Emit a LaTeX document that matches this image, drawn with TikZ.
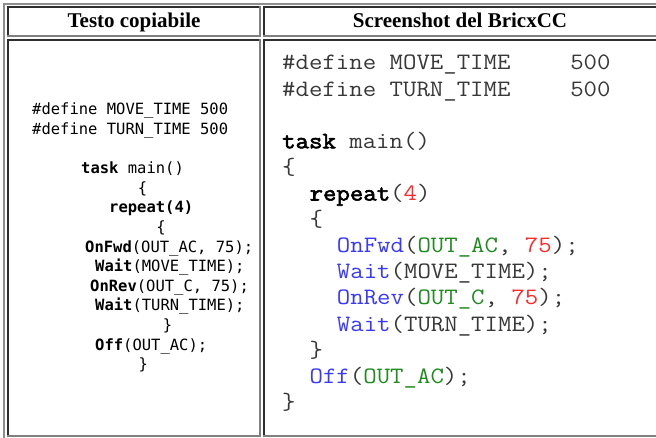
\documentclass[tikz,border=0pt]{standalone}
\usepackage{fontspec}
\setmainfont{Liberation Serif}
\newfontfamily\plainmono{DejaVu Sans Mono}
\newfontfamily\ideMono{Latin Modern Mono}[FakeStretch=1.11, AutoFakeBold=2.5]
\definecolor{outergray}{HTML}{8F8F8F}
\definecolor{celldark}{HTML}{2E2E2E}
\definecolor{celllight}{HTML}{808080}
\definecolor{idegray}{HTML}{383838}
\definecolor{ideblue}{HTML}{3838FF}
\definecolor{idegreen}{HTML}{1E8C1E}
\definecolor{idered}{HTML}{FF2A2A}
\begin{document}
\begin{tikzpicture}[x=1pt,y=-1pt,
  hdr/.style={anchor=base, inner sep=0pt, font=\fontsize{21}{25}\selectfont\bfseries},
  lcode/.style={anchor=base west, inner sep=0pt, font=\plainmono\fontsize{15.5}{19}\selectfont},
  lbrace/.style={lcode, anchor=base},
  rcode/.style={anchor=base west, inner sep=0pt, text=idegray, font=\ideMono\fontsize{23.5}{26}\selectfont},
  outerline/.style={line width=2pt, draw=outergray},
  hiline/.style={line width=2pt, draw=celldark},
  loline/.style={line width=2pt, draw=celllight}]
\useasboundingbox (0,0) rectangle (656,438);
\fill[white] (0,0) rectangle (656,438);

% table frame
\draw[outerline] (4,438) -- (4,4) -- (656,4);

% header cells
\draw[hiline] (8,37) -- (8,7) -- (261,7);
\draw[loline] (260,6) -- (260,36) -- (7,36);
\draw[hiline] (264,37) -- (264,7) -- (656,7);
\draw[loline] (263,36) -- (656,36);

% body cells
\draw[hiline] (8,437) -- (8,40) -- (261,40);
\draw[loline] (260,39) -- (260,436) -- (7,436);
\draw[hiline] (264,437) -- (264,40) -- (656,40);
\draw[loline] (263,436) -- (656,436);

% headings
\node[hdr] (h1) at (134,28) {Testo copiabile};
\node[hdr] (h2) at (460,28) {Screenshot del BricxCC};

% plain copyable listing
\node[lcode] (l1) at (32,115) {\#define MOVE\_TIME 500};
\node[lcode] (l2) at (32,134.6) {\#define TURN\_TIME 500};
\node[lcode] (l4) at (81,173.8) {\textbf{task} main()};
\node[lbrace] (l5) at (142.5,193.4) {\{};
\node[lcode] (l6) at (109,213) {\textbf{repeat(4)}};
\node[lbrace] (l7) at (161,232.6) {\{};
\node[lcode] (l8) at (85,252.2) {\textbf{OnFwd}(OUT\_AC, 75);};
\node[lcode] (l9) at (95,271.8) {\textbf{Wait}(MOVE\_TIME);};
\node[lcode] (l10) at (90,291.4) {\textbf{OnRev}(OUT\_C, 75);};
\node[lcode] (l11) at (95,311) {\textbf{Wait}(TURN\_TIME);};
\node[lbrace] (l12) at (167.5,330.6) {\}};
\node[lcode] (l13) at (95,350.2) {\textbf{Off}(OUT\_AC);};
\node[lbrace] (l14) at (143.3,369.8) {\}};

% editor listing with syntax colours
\node[rcode] (r1) at (282,70) {\#define MOVE\_TIME\phantom{0000}\hspace{6pt}500};
\node[rcode] (r2) at (282,96.1) {\#define TURN\_TIME\phantom{0000}\hspace{6pt}500};
\node[rcode] (r4) at (282,148.3) {\textcolor{black}{\bfseries task} main()};
\node[rcode] (r5) at (282,174.4) {\{};
\node[rcode] (r6) at (309.4,200.5) {\textcolor{black}{\bfseries repeat}(\textcolor{idered}{4})};
\node[rcode] (r7) at (309.4,226.6) {\{};
\node[rcode] (r8) at (336.7,252.7) {\textcolor{ideblue}{OnFwd}(\textcolor{idegreen}{OUT\_AC}, \textcolor{idered}{75});};
\node[rcode] (r9) at (336.7,278.8) {\textcolor{ideblue}{Wait}(MOVE\_TIME);};
\node[rcode] (r10) at (336.7,304.9) {\textcolor{ideblue}{OnRev}(\textcolor{idegreen}{OUT\_C}, \textcolor{idered}{75});};
\node[rcode] (r11) at (336.7,331) {\textcolor{ideblue}{Wait}(TURN\_TIME);};
\node[rcode] (r12) at (309.4,357.1) {\}};
\node[rcode] (r13) at (309.4,383.2) {\textcolor{ideblue}{Off}(\textcolor{idegreen}{OUT\_AC});};
\node[rcode] (r14) at (282,409.3) {\}};
\end{tikzpicture}
\end{document}
